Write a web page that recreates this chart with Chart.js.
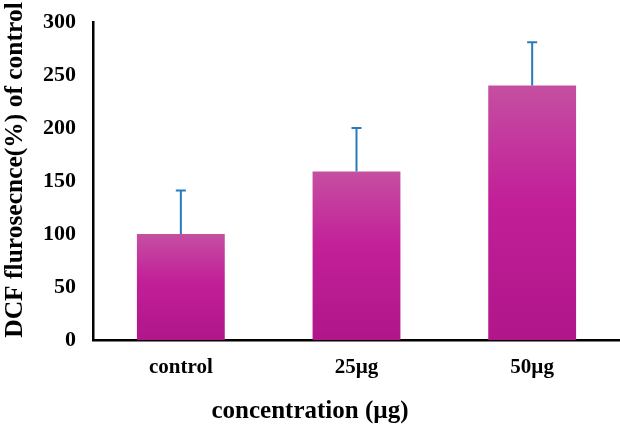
<!DOCTYPE html>
<html>
<head>
<meta charset="utf-8">
<script src="https://cdn.jsdelivr.net/npm/chart.js@4"></script>
<style>
  html, body { margin: 0; padding: 0; background: #fff; }
  #wrap { width: 620px; height: 428px; }
</style>
</head>
<body>
<div id="wrap"><canvas id="myChart"></canvas></div>
<script>
const categories = ['control', '25\u00b5g', '50\u00b5g'];
const means = [100, 159, 240];
const errors = [41, 41, 41];
const yTicks = [0, 50, 100, 150, 200, 250, 300];
const yTitle = 'DCF flurosecnce(%) of control';
const xTitle = 'concentration (\u00b5g)';

const serif = '"Liberation Serif", "Times New Roman", serif';

// draws the upward error bars from the y scale
const errorBars = {
  id: 'errorBars',
  afterDatasetsDraw(chart) {
    const ctx = chart.ctx;
    const y = chart.scales.y;
    const meta = chart.getDatasetMeta(0);
    ctx.save();
    ctx.strokeStyle = '#2b7bba';
    ctx.lineWidth = 2;
    meta.data.forEach((bar, i) => {
      const top = y.getPixelForValue(means[i] + errors[i]);
      const base = y.getPixelForValue(means[i]);
      ctx.beginPath();
      ctx.moveTo(bar.x, base);
      ctx.lineTo(bar.x, top);
      ctx.moveTo(bar.x - 5, top);
      ctx.lineTo(bar.x + 5, top);
      ctx.stroke();
    });
    ctx.restore();
  }
};

// y title, placed a bit above the plot centre like the original
const sideTitle = {
  id: 'sideTitle',
  afterDraw(chart) {
    const ctx = chart.ctx;
    ctx.save();
    ctx.translate(15, 170);
    ctx.rotate(-Math.PI / 2);
    ctx.font = 'bold 25.5px ' + serif;
    ctx.fillStyle = '#000';
    ctx.textAlign = 'center';
    ctx.textBaseline = 'middle';
    ctx.fillText(yTitle, 0, 0);
    ctx.restore();
  }
};

const barColour = (context) => {
  const chart = context.chart;
  const y = chart.scales.y;
  if (!chart.chartArea || !y || context.dataIndex === undefined) return '#c01f96';
  const top = y.getPixelForValue(means[context.dataIndex]);
  const bottom = y.getPixelForValue(0);
  const g = chart.ctx.createLinearGradient(0, top, 0, bottom);
  g.addColorStop(0, '#c54fa1');
  g.addColorStop(0.45, '#c21f98');
  g.addColorStop(1, '#b0168a');
  return g;
};

new Chart(document.getElementById('myChart'), {
  type: 'bar',
  data: {
    labels: categories,
    datasets: [{
      data: means,
      backgroundColor: barColour,
      barPercentage: 0.5,
      categoryPercentage: 1
    }]
  },
  options: {
    responsive: true,
    maintainAspectRatio: false,
    animation: false,
    layout: { padding: { top: 22, right: 0, left: 0, bottom: 0 } },
    plugins: {
      legend: { display: false },
      tooltip: { enabled: false },
      title: {
        display: true,
        position: 'bottom',
        text: xTitle,
        color: '#000',
        padding: { top: 0, bottom: 1 },
        font: { family: serif, size: 25, weight: 'bold' }
      }
    },
    scales: {
      x: {
        grid: { display: false, drawTicks: false },
        border: { display: true, color: '#000', width: 2.5 },
        ticks: {
          color: '#000',
          padding: 15,
          font: { family: serif, size: 21, weight: 'bold' }
        },
        afterFit: (scale) => { scale.height = 57; }
      },
      y: {
        min: 0,
        max: 300,
        afterBuildTicks: (scale) => { scale.ticks = yTicks.map(v => ({ value: v })); },
        grid: { display: false, drawTicks: false },
        border: { display: true, color: '#000', width: 2.5 },
        ticks: {
          color: '#000',
          padding: 17,
          font: { family: serif, size: 22, weight: 'bold' }
        },
        afterFit: (scale) => {
          scale.width = 93;
          scale.paddingTop = 0;
          scale.paddingBottom = 0;
        }
      }
    }
  },
  plugins: [errorBars, sideTitle]
});
</script>
</body>
</html>
